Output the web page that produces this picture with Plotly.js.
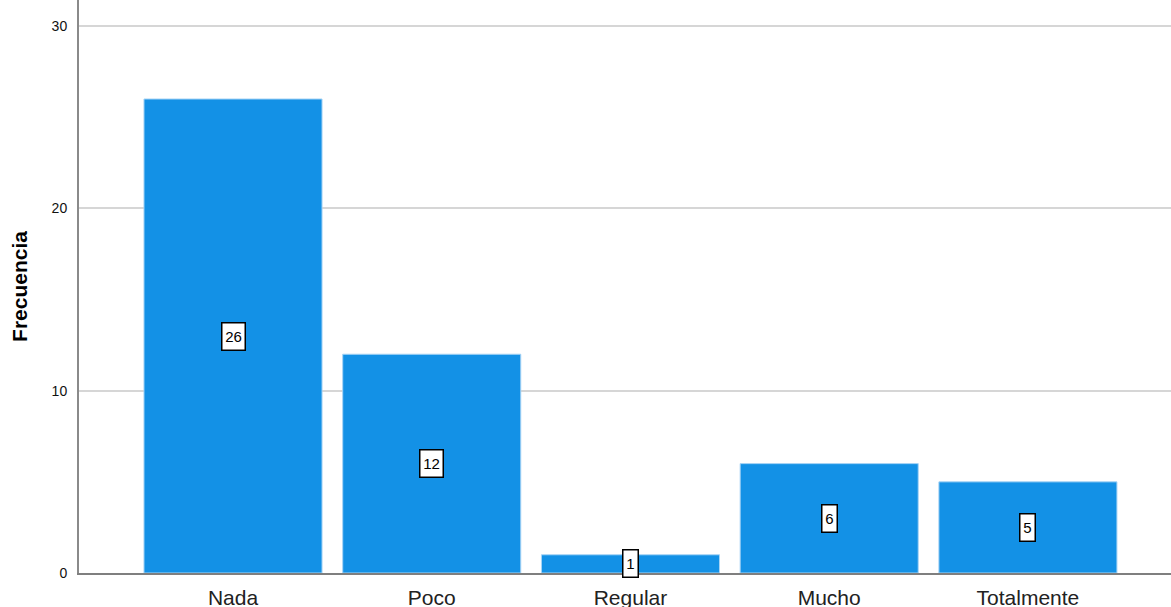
<!DOCTYPE html>
<html><head><meta charset="utf-8">
<script src="https://cdn.plot.ly/plotly-3.0.1.min.js"></script>
<style>html,body{margin:0;padding:0;background:#fff}#chart{width:1171px;height:607px}</style>
</head><body><div id="chart"></div>
<script>
const categories = ["Nada", "Poco", "Regular", "Mucho", "Totalmente"];
const frequencies = [26, 12, 1, 6, 5];
const yTicks = [0, 10, 20, 30];

const annotations = categories.map((c, i) => ({
  x: c, y: frequencies[i] / 2, xref: 'x', yref: 'y',
  text: String(frequencies[i]), showarrow: false,
  font: {family: 'Arial, Liberation Sans', size: 15, color: '#000'},
  width: String(frequencies[i]).length * 8 + 4, height: 24,
  bgcolor: '#fff', bordercolor: '#000', borderwidth: 1.5, borderpad: 1
}));

Plotly.newPlot('chart', [{
  type: 'bar', x: categories, y: frequencies,
  marker: {color: '#1391E6', line: {color: '#a8d4f5', width: 1}},
  hoverinfo: 'none'
}], {
  width: 1171, height: 607,
  margin: {l: 79, r: 0, t: 0, b: 34, pad: 0},
  paper_bgcolor: '#fff', plot_bgcolor: '#fff',
  bargap: 0.104,
  showlegend: false,
  xaxis: {
    range: [-0.775, 4.72], showgrid: false, zeroline: false,
    showline: true, linecolor: '#7f7f7f', linewidth: 2,
    ticks: '', ticklabelstandoff: 5,
    tickfont: {family: 'Arial, Liberation Sans', size: 21, color: '#222'}
  },
  yaxis: {
    range: [0, 31.43], tickvals: yTicks, ticktext: yTicks.map(String),
    showgrid: true, gridcolor: '#d6d6d6', gridwidth: 2, zeroline: false,
    showline: true, linecolor: '#8a8a8a', linewidth: 2, ticks: '',
    ticklabelstandoff: 7,
    tickfont: {family: 'Arial, Liberation Sans', size: 14, color: '#111'},
    title: {text: 'Frecuencia', standoff: 18,
      font: {family: 'Arial, Liberation Sans', size: 21, color: '#000', weight: 'bold'}}
  },
  annotations: annotations
}, {displayModeBar: false, staticPlot: true});
</script></body></html>
